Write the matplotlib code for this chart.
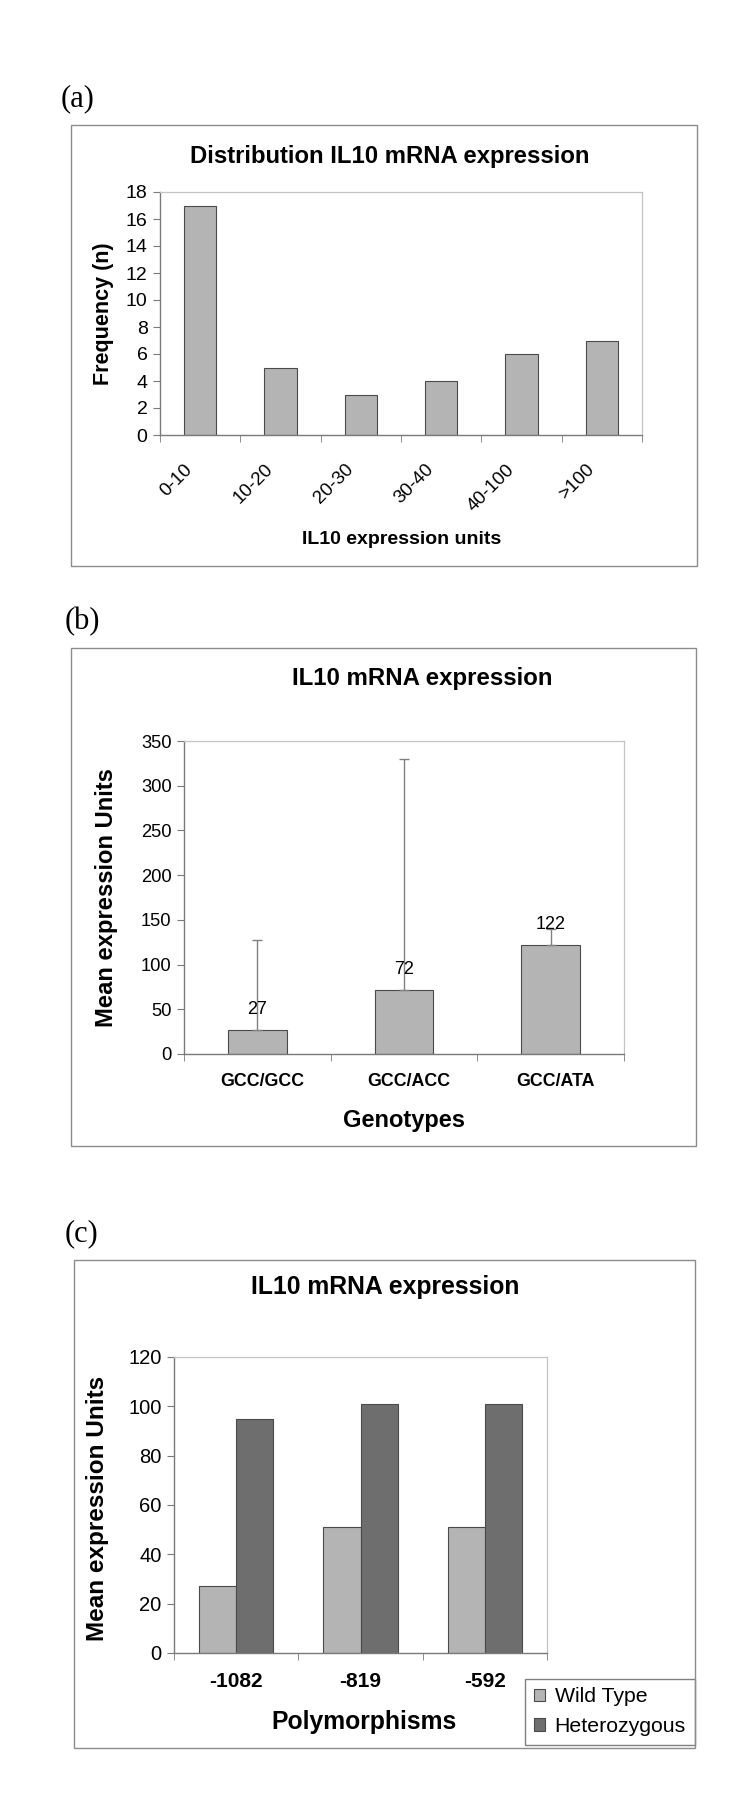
import numpy as np
import matplotlib
matplotlib.use('Agg')
import matplotlib.pyplot as plt
from matplotlib.patches import Rectangle
from matplotlib.ticker import FixedLocator, MultipleLocator
from matplotlib.transforms import ScaledTranslation

plt.rcParams['font.family'] = ['Liberation Sans', 'DejaVu Sans']

# (a) distribution of IL10 mRNA expression
dist_bins = ['0-10', '10-20', '20-30', '30-40', '40-100', '>100']
dist_freq = [17, 5, 3, 4, 6, 7]

# (b) mean expression by genotype (upper error only)
genotypes = ['GCC/GCC', 'GCC/ACC', 'GCC/ATA']
geno_mean = [27, 72, 122]
geno_err = [101, 258, 18]

# (c) mean expression by polymorphism
polymorphisms = ['-1082', '-819', '-592']
wild_type = [27, 51, 51]
heterozygous = [95, 101, 101]

W, H = 742, 1800
fig = plt.figure(figsize=(W / 100, H / 100), dpi=100)

LIGHT = '#b4b4b4'
DARK = '#6e6e6e'
EDGE = '#4a4a4a'


def px_axes(x0, y0, x1, y1):
    return fig.add_axes([x0 / W, 1 - y1 / H, (x1 - x0) / W, (y1 - y0) / H])


def frame(x0, y0, x1, y1):
    fig.add_artist(Rectangle((x0 / W, 1 - y1 / H), (x1 - x0) / W, (y1 - y0) / H,
                             transform=fig.transFigure, fill=False,
                             ec='#8c8c8c', lw=1.0))


def ftext(x, y, s, **kw):
    fig.text(x / W, 1 - y / H, s, ha='center', va='center', **kw)


def shift_xlabels(ax, dx_px, dy_px=0):
    off = ScaledTranslation(dx_px / 100, -dy_px / 100, fig.dpi_scale_trans)
    for lab in ax.get_xticklabels():
        lab.set_transform(lab.get_transform() + off)


def style_axes(ax, n, ymax, ystep):
    for side in ['top', 'right']:
        ax.spines[side].set_color('#c4c4c4')
        ax.spines[side].set_linewidth(0.9)
    for side in ['left', 'bottom']:
        ax.spines[side].set_color('#7a7a7a')
        ax.spines[side].set_linewidth(1.0)
    ax.set_xlim(-0.5, n - 0.5)
    ax.set_ylim(0, ymax)
    ax.yaxis.set_major_locator(MultipleLocator(ystep))
    ax.xaxis.set_major_locator(FixedLocator(range(n)))
    ax.xaxis.set_minor_locator(FixedLocator(np.arange(n + 1) - 0.5))
    ax.tick_params(axis='x', which='major', length=0)
    ax.tick_params(axis='x', which='minor', length=5, color='#7a7a7a',
                   direction='out')
    ax.tick_params(axis='y', length=5, color='#7a7a7a', direction='out',
                   pad=4)


# ---------- (a) ----------
ftext(78, 99, '(a)', family='Liberation Serif', fontsize=22)
frame(71, 125, 697, 566)
ftext(390, 156, 'Distribution IL10 mRNA expression',
      fontsize=17.2, fontweight='bold')
ax = px_axes(160, 192, 642, 435)
x = np.arange(len(dist_bins))
ax.bar(x, dist_freq, width=0.4, color=LIGHT, edgecolor=EDGE, lw=0.8)
style_axes(ax, len(dist_bins), 18, 2)
ax.set_xticklabels(dist_bins, rotation=45, ha='right', va='center',
                   rotation_mode='anchor', fontsize=13.5)
ax.tick_params(axis='x', which='major', pad=23)
ax.tick_params(axis='y', labelsize=14)
shift_xlabels(ax, -10)
ftext(402, 540, 'IL10 expression units', fontsize=14, fontweight='bold')
ftext(104, 314, 'Frequency (n)', fontsize=15.5, fontweight='bold',
      rotation=90)

# ---------- (b) ----------
ftext(82, 622, '(b)', family='Liberation Serif', fontsize=22)
frame(71, 648, 696, 1146)
ftext(422, 678, 'IL10 mRNA expression', fontsize=17.3, fontweight='bold')
ax = px_axes(184, 741, 624, 1054)
x = np.arange(len(genotypes))
ax.bar(x, geno_mean, width=0.4, color=LIGHT, edgecolor=EDGE, lw=0.8)
ax.errorbar(x, geno_mean, yerr=[np.zeros(len(x)), geno_err], fmt='none',
            ecolor='#808080', elinewidth=1.0, capsize=3.5, capthick=1.0)
for xi, v in zip(x, geno_mean):
    ax.text(xi, v + 23, str(v), ha='center', va='center', fontsize=13)
style_axes(ax, len(genotypes), 350, 50)
ax.set_xticklabels(genotypes, fontsize=12.8, fontweight='bold')
ax.tick_params(axis='x', which='major', pad=14)
ax.tick_params(axis='y', labelsize=13.2)
shift_xlabels(ax, 5)
ftext(404, 1120, 'Genotypes', fontsize=17, fontweight='bold')
ftext(107, 898, 'Mean expression Units', fontsize=17.1, fontweight='bold',
      rotation=90)

# ---------- (c) ----------
ftext(81, 1234, '(c)', family='Liberation Serif', fontsize=22)
frame(73.5, 1260, 695, 1748)
ftext(385, 1287, 'IL10 mRNA expression', fontsize=17.8, fontweight='bold')
ax = px_axes(174, 1357, 547, 1653)
x = np.arange(len(polymorphisms))
ax.bar(x - 0.15, wild_type, width=0.3, color=LIGHT, edgecolor=EDGE, lw=0.8,
       label='Wild Type')
ax.bar(x + 0.15, heterozygous, width=0.3, color=DARK, edgecolor=EDGE, lw=0.8,
       label='Heterozygous')
style_axes(ax, len(polymorphisms), 120, 20)
ax.set_xticklabels(polymorphisms, fontsize=15, fontweight='bold')
ax.tick_params(axis='x', which='major', pad=14)
ax.tick_params(axis='y', labelsize=14.5)
ftext(364, 1722, 'Polymorphisms', fontsize=17.8, fontweight='bold')
ftext(98, 1508, 'Mean expression Units', fontsize=17.5, fontweight='bold',
      rotation=90)
leg = ax.legend(loc='upper left', bbox_to_anchor=(525 / W, 1 - 1679 / H),
                bbox_transform=fig.transFigure, borderaxespad=0,
                fontsize=15.3, frameon=True, fancybox=False, framealpha=1,
                edgecolor='#808080', handlelength=0.55, handleheight=0.55,
                handletextpad=0.45, labelspacing=0.5, borderpad=0.4)
leg.get_frame().set_linewidth(1.0)

fig.savefig('out.png', dpi=100, facecolor='white')
